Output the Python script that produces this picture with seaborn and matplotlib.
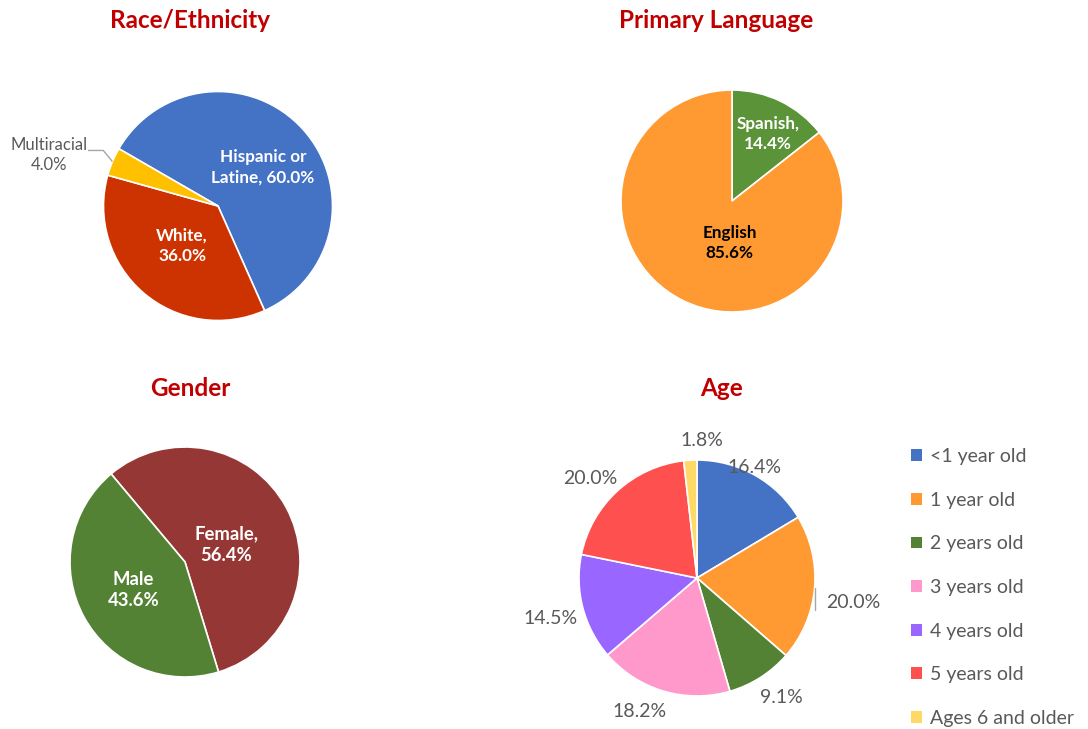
import matplotlib
matplotlib.use("Agg")
import matplotlib.pyplot as plt
import seaborn as sns
import numpy as np
from matplotlib.patches import Patch

# ---------------- data ----------------
race_labels = ["Hispanic or\nLatine, 60.0%", "White,\n36.0%", "Multiracial\n4.0%"]
race_values = [60.0, 36.0, 4.0]
race_colors = ["#4472C4", "#CC3300", "#FFC000"]

lang_labels = ["Spanish,\n14.4%", "English\n85.6%"]
lang_values = [14.4, 85.6]
lang_colors = ["#5B9338", "#FF9A33"]

gender_labels = ["Female,\n56.4%", "Male\n43.6%"]
gender_values = [56.4, 43.6]
gender_colors = ["#953735", "#548235"]

age_categories = ["<1 year old", "1 year old", "2 years old", "3 years old",
                  "4 years old", "5 years old", "Ages 6 and older"]
age_values = [16.4, 20.0, 9.1, 18.2, 14.5, 20.0, 1.8]
age_colors = ["#4472C4", "#FF9A33", "#548235", "#FF99CC", "#9966FF", "#FF5050", "#FFD966"]

# ---------------- style ----------------
sns.set_theme(style="white")
plt.rcParams['font.family'] = ['Lato', 'DejaVu Sans']

W, H = 1088, 729
fig = plt.figure(figsize=(W / 100, H / 100), dpi=100)
fig.patch.set_facecolor("white")

TITLE_C = "#C00000"
GRAY = "#595959"


def pie_axes(cx, cy, r):
    ax = fig.add_axes([(cx - r) / W, 1 - (cy + r) / H, 2 * r / W, 2 * r / H])
    ax.set_xlim(-1, 1)
    ax.set_ylim(-1, 1)
    ax.axis("off")
    return ax


def draw_pie(ax, values, colors, start):
    wedges, _ = ax.pie(values, colors=colors, startangle=start, counterclock=False,
                       radius=1, wedgeprops=dict(edgecolor="white", linewidth=1.2))
    ax.set_xlim(-1, 1)
    ax.set_ylim(-1, 1)
    return wedges


def mid(w):
    return 0.5 * (w.theta1 + w.theta2)


def polar(ang, dist):
    a = np.deg2rad(ang)
    return dist * np.cos(a), dist * np.sin(a)


def title(x, y, s):
    fig.text(x / W, 1 - y / H, s, ha="center", va="center", fontsize=17.5,
             fontweight="bold", color=TITLE_C)


# ---------------- Race / Ethnicity ----------------
title(190, 20, "Race/Ethnicity")
ax = pie_axes(218, 206, 114.5)
wedges = draw_pie(ax, race_values, race_colors, 150)
race_layout = [(-1, 0.52), (-1, 0.47)]
for w, lab, (da, d) in zip(wedges[:2], race_labels[:2], race_layout):
    x, y = polar(mid(w) + da, d)
    ax.text(x, y, lab, ha="center", va="center", color="white", fontsize=12.3,
            fontweight="bold", linespacing=1.35)
# Multiracial outside with leader line
wm = wedges[2]
ex, ey = polar(mid(wm), 1.0)
lx, ly = polar(mid(wm) + 6, 1.54)
ax.plot([ex, ex - 0.08, -1.135], [ey, ly + 0.04, ly + 0.04], color="#A6A6A6",
        lw=1, clip_on=False, solid_capstyle="butt")
ax.text(lx, ly, race_labels[2], ha="center", va="center", color=GRAY, fontsize=12,
        linespacing=1.3)

# ---------------- Primary Language ----------------
title(716, 20, "Primary Language")
ax = pie_axes(732, 201, 111)
wedges = draw_pie(ax, lang_values, lang_colors, 90)
lang_layout = [(-2.4, 0.685, "white"), (23, 0.38, "black")]
for w, lab, (da, d, c) in zip(wedges, lang_labels, lang_layout):
    x, y = polar(mid(w) + da, d)
    ax.text(x, y, lab, ha="center", va="center", color=c, fontsize=12.3,
            fontweight="bold", linespacing=1.35)

# ---------------- Gender ----------------
title(190, 388, "Gender")
ax = pie_axes(185, 562, 115)
wedges = draw_pie(ax, gender_values, gender_colors, 130)
gender_layout = [(-6, 0.386), (0, 0.51)]
for w, lab, (da, d) in zip(wedges, gender_labels, gender_layout):
    x, y = polar(mid(w) + da, d)
    ax.text(x, y, lab, ha="center", va="center", color="white", fontsize=13.3,
            fontweight="bold", linespacing=1.35)

# ---------------- Age ----------------
title(722, 388, "Age")
ax = pie_axes(697, 578, 118)
wedges = draw_pie(ax, age_values, age_colors, 90)
age_layout = [(2, 1.06), (-4, 1.34), (2.4, 1.24), (-6.5, 1.234), (1, 1.285),
              (4.7, 1.235), (-5.3, 1.17)]
for w, v, (da, d) in zip(wedges, age_values, age_layout):
    x, y = polar(mid(w) + da, d)
    ax.text(x, y, f"{v:.1f}%", ha="center", va="center", color=GRAY, fontsize=14)
# small leader line for the 1-year slice label
ax.plot([1.0, 1.0], [-0.085, -0.27], color="#A6A6A6", lw=1, clip_on=False)

handles = [Patch(facecolor=c, edgecolor="none") for c in age_colors]
leg = fig.legend(handles, age_categories, loc="upper left",
                 bbox_to_anchor=(911 / W, 1 - 448 / H), frameon=False,
                 fontsize=14, handlelength=0.55, handleheight=0.55,
                 handletextpad=0.45, labelspacing=1.37, borderaxespad=0, borderpad=0)
for t in leg.get_texts():
    t.set_color(GRAY)

fig.savefig("out.png", dpi=100, facecolor="white")
